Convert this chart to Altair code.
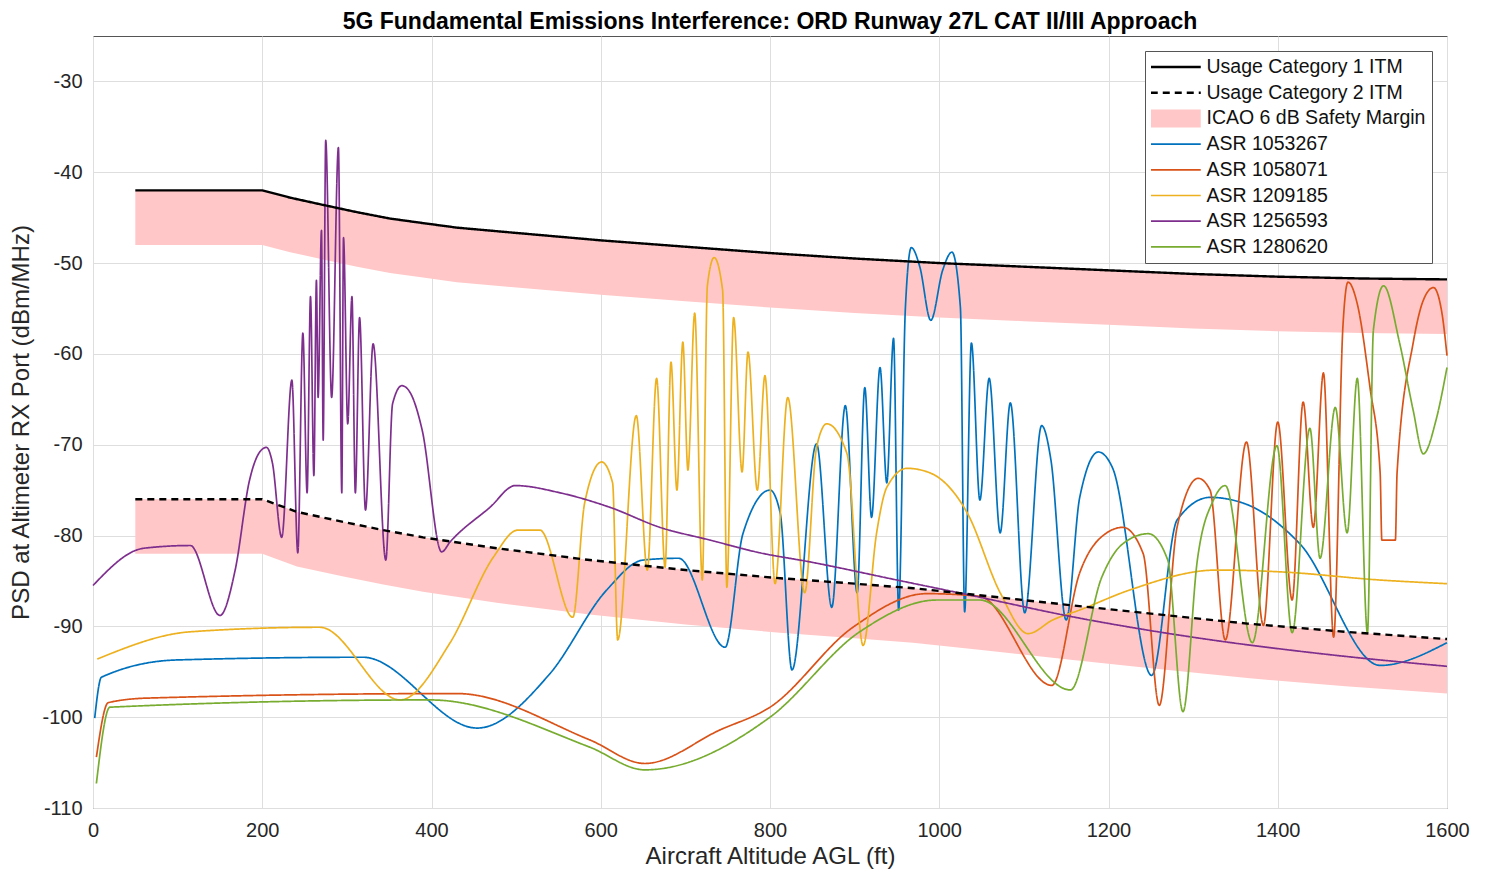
import altair as alt
import pandas as pd

TITLE = "5G Fundamental Emissions Interference: ORD Runway 27L CAT II/III Approach"
X_TITLE = "Aircraft Altitude AGL (ft)"
Y_TITLE = "PSD at Altimeter RX Port (dBm/MHz)"
x_ticks = [0, 200, 400, 600, 800, 1000, 1200, 1400, 1600]
y_ticks = [-110, -100, -90, -80, -70, -60, -50, -40, -30]

series_names = ["Usage Category 1 ITM", "Usage Category 2 ITM", "ICAO 6 dB Safety Margin",
                "ASR 1053267", "ASR 1058071", "ASR 1209185", "ASR 1256593", "ASR 1280620"]
series_colors = ["#000000", "#000000", "#FFC7C7",
                 "#0072BD", "#D95319", "#EDB120", "#7E2F8E", "#77AC30"]
series_dash = [[1, 0], [7, 5], [1, 0], [1, 0], [1, 0], [1, 0], [1, 0], [1, 0]]
margin_db = 6

cat1_x = [50, 200, 233, 272, 312, 351, 390, 430, 490, 600, 700, 800, 900, 1000, 1100, 1200, 1300, 1400, 1500, 1600]
cat1_y = [-42.0, -42.0, -42.8, -43.6, -44.4, -45.1, -45.6, -46.1, -46.6, -47.5, -48.2, -48.9, -49.5, -50.0, -50.4, -50.8, -51.2, -51.5, -51.7, -51.8]

cat2_x = [50, 200, 241, 296, 343, 390, 477, 587, 700, 812, 900, 969, 1050, 1158, 1250, 1364, 1480, 1600]
cat2_y = [-76.0, -76.0, -77.4, -78.5, -79.4, -80.2, -81.4, -82.7, -83.8, -84.7, -85.3, -85.8, -86.6, -87.7, -88.6, -89.7, -90.6, -91.4]

blue_x = [2, 10, 99, 319, 454, 540, 607, 650, 692, 747, 768, 800, 812, 826, 855, 873, 889, 903, 912, 920,
          930, 938, 946, 952, 960, 967, 977, 990, 1004, 1015, 1025, 1030, 1038, 1048, 1059, 1072, 1084, 1101,
          1121, 1132, 1150, 1166, 1188, 1205, 1251, 1281, 1320, 1364, 1426, 1521, 1600]
blue_y = [-100.1, -95.6, -93.7, -93.4, -101.2, -95.2, -86.0, -82.7, -82.5, -92.3, -79.8, -75.0, -77.5, -94.8,
          -69.9, -87.9, -65.7, -86.3, -63.7, -78.0, -61.5, -74.2, -58.3, -88.2, -54.9, -48.3, -50.4, -56.3,
          -50.8, -48.8, -54.9, -88.4, -58.8, -76.1, -62.7, -79.7, -65.4, -88.5, -67.9, -71.7, -89.3, -75.8,
          -70.8, -72.6, -95.4, -78.3, -75.8, -76.6, -80.9, -94.3, -91.8]

red_x = [4, 18, 64, 430, 587, 652, 741, 800, 898, 985, 1048, 1133, 1166, 1198, 1217, 1241, 1260, 1281, 1306,
         1320, 1338, 1363, 1383, 1400, 1417, 1430, 1442, 1454, 1466, 1477, 1483, 1494, 1509, 1521, 1523, 1539,
         1541, 1560, 1572, 1584, 1594, 1600]
red_y = [-104.4, -98.4, -97.9, -97.4, -102.5, -105.1, -101.4, -98.9, -90.1, -86.4, -86.7, -96.5, -84.1, -79.7,
         -79.1, -82.0, -98.7, -79.1, -73.7, -75.0, -91.5, -69.7, -89.9, -67.5, -87.1, -65.3, -79.1, -62.1,
         -91.2, -57.0, -52.1, -54.5, -63.7, -73.1, -80.5, -80.5, -73.1, -58.8, -54.1, -52.7, -55.5, -60.2]

yellow_x = [5, 115, 268, 363, 422, 473, 502, 528, 567, 581, 601, 614, 620, 642, 655, 666, 676, 683, 690, 697,
            703, 711, 720, 726, 734, 744, 749, 757, 767, 774, 785, 794, 806, 821, 841, 855, 867, 891, 910, 926,
            938, 962, 989, 1033, 1072, 1105, 1134, 1166, 1225, 1328, 1403, 1521, 1600]
yellow_y = [-93.6, -90.6, -90.1, -98.1, -91.8, -82.4, -79.4, -79.4, -89.0, -76.4, -71.9, -74.2, -91.5, -66.8,
            -83.8, -62.7, -83.5, -60.9, -75.0, -58.7, -72.8, -55.5, -84.9, -52.5, -49.4, -53.0, -85.7, -56.0,
            -73.0, -59.8, -75.0, -62.4, -85.3, -64.8, -86.3, -70.3, -67.7, -71.0, -92.1, -79.7, -74.7, -72.6,
            -73.1, -77.5, -86.3, -90.8, -89.3, -88.2, -86.0, -83.8, -84.0, -84.9, -85.3]

purple_x = [0, 60, 115, 150, 168, 185, 197, 205, 212, 223, 235, 242, 248, 253, 257, 261, 264, 266, 270, 272,
            275, 282, 290, 294, 296, 301, 306, 310, 315, 322, 331, 346, 354, 365, 375, 389, 412, 422, 469, 499,
            552, 611, 670, 729, 788, 847, 950, 1028, 1166, 1300, 1450, 1600]
purple_y = [-85.5, -81.4, -81.1, -88.8, -83.8, -73.9, -70.8, -70.3, -72.0, -80.2, -62.9, -81.9, -57.7, -75.3,
            -53.7, -73.4, -51.9, -64.8, -46.4, -69.5, -36.5, -64.8, -37.3, -75.3, -47.2, -67.7, -53.7, -75.3,
            -56.0, -77.2, -58.9, -82.7, -65.5, -63.5, -64.3, -68.4, -81.8, -80.7, -76.9, -74.5, -75.3, -76.9,
            -79.1, -80.5, -81.9, -82.9, -84.9, -86.4, -89.1, -91.2, -93.0, -94.4]

green_x = [4, 20, 398, 587, 652, 800, 906, 997, 1048, 1155, 1192, 1217, 1247, 1270, 1288, 1305, 1324, 1338,
           1370, 1399, 1417, 1438, 1450, 1468, 1482, 1494, 1506, 1513, 1525, 1544, 1560, 1572, 1587, 1600]
green_y = [-107.3, -98.9, -98.1, -103.3, -105.8, -100.0, -90.6, -87.1, -87.1, -97.0, -84.6, -80.9, -79.8,
           -82.7, -99.4, -82.7, -76.1, -74.5, -91.8, -70.1, -90.7, -68.2, -82.5, -65.9, -79.7, -62.7, -90.7,
           -57.4, -52.5, -58.8, -66.2, -71.0, -67.3, -61.5]


def long(name, xs, ys):
    return pd.DataFrame({"series": name, "x": xs, "y": ys})


itm = pd.concat([long(series_names[0], cat1_x, cat1_y),
                 long(series_names[1], cat2_x, cat2_y)], ignore_index=True)
asr = pd.concat([long(series_names[3], blue_x, blue_y),
                 long(series_names[4], red_x, red_y),
                 long(series_names[5], yellow_x, yellow_y),
                 long(series_names[6], purple_x, purple_y),
                 long(series_names[7], green_x, green_y)], ignore_index=True)

FONT = "Liberation Sans"
TXT = "#262626"
LABEL_EXPR = "'' + datum.value"

x_enc = alt.X("x:Q", scale=alt.Scale(domain=[0, 1600], nice=False, zero=False),
              axis=alt.Axis(values=x_ticks, title=X_TITLE, grid=True, gridColor="#dedede",
                            domain=False, ticks=False, tickSize=0, labelFlush=False,
                            labelExpr=LABEL_EXPR,
                            labelFont=FONT, labelFontSize=20, labelColor=TXT, labelPadding=12,
                            titleFont=FONT, titleFontSize=24, titleFontWeight="normal",
                            titleColor=TXT, titlePadding=4))
y_enc = alt.Y("y:Q", scale=alt.Scale(domain=[-110, -25], nice=False, zero=False),
              axis=alt.Axis(values=y_ticks, title=Y_TITLE, grid=True, gridColor="#dedede",
                            domain=False, ticks=False, tickSize=0, labelFlush=False,
                            labelExpr=LABEL_EXPR,
                            labelFont=FONT, labelFontSize=20, labelColor=TXT, labelPadding=11,
                            titleFont=FONT, titleFontSize=24, titleFontWeight="normal",
                            titleColor=TXT, titlePadding=8))

SW_EXPR = ("(datum && datum.label === 'ICAO 6 dB Safety Margin') ? 18 : "
           "((datum && indexof(datum.label, 'Usage') === 0) ? 2.4 : 1.7)")

legend = alt.Legend(title=None, orient="top-right", offset=15,
                    symbolType="M-20,0L80,0", symbolSize=1,
                    symbolStrokeWidth=alt.ExprRef(expr=SW_EXPR),
                    clipHeight=20,
                    labelFont=FONT, labelFontSize=19.5, labelColor="#111111", labelLimit=400,
                    labelOffset=36, rowPadding=5.7, padding=6,
                    strokeColor="#555555", fillColor="#ffffff")

color = alt.Color("series:N", scale=alt.Scale(domain=series_names, range=series_colors), legend=legend)
dash = alt.StrokeDash("series:N", scale=alt.Scale(domain=series_names, range=series_dash), legend=legend)

band = alt.Chart(itm).transform_calculate(
    lo=f"datum.y - {margin_db}"
).mark_area(fill=series_colors[2], opacity=1).encode(
    x=x_enc, y=y_enc, y2=alt.Y2("lo:Q"), detail="series:N"
)

asr_lines = alt.Chart(asr).mark_line(strokeWidth=1.7, interpolate="monotone").encode(
    x=x_enc, y=y_enc, color=color, strokeDash=dash
)

itm_lines = alt.Chart(itm).mark_line(strokeWidth=2.4).encode(
    x=x_enc, y=y_enc, color=color, strokeDash=dash
)

chart = alt.layer(band, asr_lines, itm_lines).properties(
    width=1354, height=772,
    title=alt.Title(TITLE, font=FONT, fontSize=23, fontWeight="bold", color="#000000",
                    anchor="middle", offset=2),
    autosize=alt.AutoSizeParams(type="none"),
    padding={"left": 85, "top": 28, "right": 25, "bottom": 62},
).configure_view(stroke="#555555", strokeWidth=1)

chart.save("out.html", embed_options={"renderer": "svg", "actions": False})
